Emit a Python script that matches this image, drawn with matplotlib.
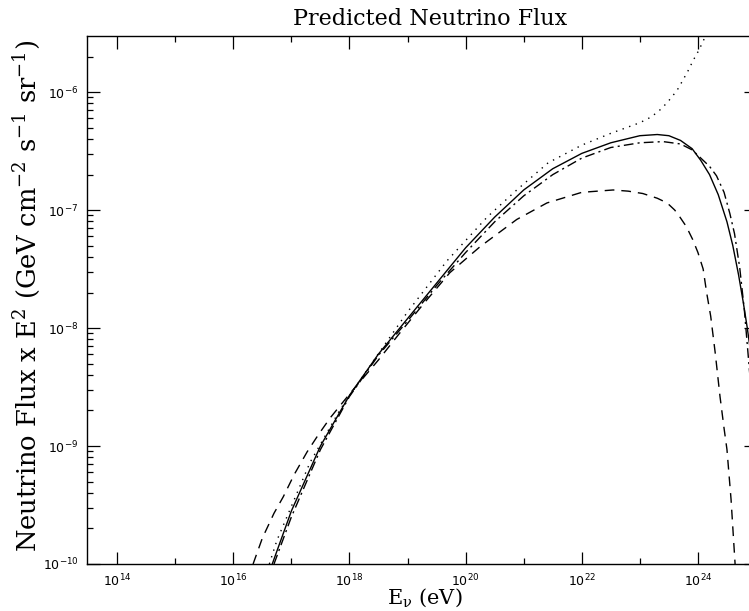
import numpy as np
import matplotlib
matplotlib.use("Agg")
import matplotlib.pyplot as plt
from matplotlib.ticker import FixedLocator, LogFormatterSciNotation, NullFormatter

# log10(E/eV) and log10(flux)
solid_logE = [16.67, 17.0, 17.5, 18.0, 18.5, 19.0, 19.5, 20.0, 20.5, 21.0, 21.5, 22.0, 22.5,
              23.0, 23.3, 23.5, 23.7, 23.9, 24.05, 24.2, 24.35, 24.5, 24.6, 24.7, 24.78, 24.85, 24.92]
solid_logF = [-10.0, -9.55, -9.0, -8.57, -8.22, -7.92, -7.62, -7.32, -7.06, -6.83, -6.65, -6.52, -6.43,
              -6.37, -6.36, -6.37, -6.41, -6.48, -6.58, -6.70, -6.87, -7.10, -7.30, -7.55, -7.78, -8.00, -8.25]

dashdot_logE = [16.70, 17.0, 17.5, 18.0, 18.5, 19.0, 19.5, 20.0, 20.5, 21.0, 21.5, 22.0, 22.5,
                23.0, 23.4, 23.7, 23.9, 24.05, 24.2, 24.32, 24.45, 24.55, 24.63, 24.72, 24.8, 24.86, 24.92]
dashdot_logF = [-10.0, -9.6, -9.03, -8.58, -8.23, -7.94, -7.64, -7.36, -7.10, -6.88, -6.70, -6.56, -6.47,
                -6.43, -6.42, -6.44, -6.49, -6.56, -6.63, -6.71, -6.85, -7.03, -7.20, -7.49, -7.85, -8.20, -8.55]

dashed_logE = [16.34, 16.5, 16.7, 16.86, 17.05, 17.27, 17.47, 17.67, 18.0, 18.5, 18.87, 19.3, 19.73,
               20.25, 20.88, 21.4, 22.0, 22.54, 22.8, 23.05, 23.3, 23.47, 23.6, 23.69, 23.8, 23.91,
               24.0, 24.09, 24.15, 24.22, 24.3, 24.38, 24.45, 24.5, 24.57, 24.64]
dashed_logF = [-10.0, -9.78, -9.57, -9.43, -9.24, -9.05, -8.90, -8.76, -8.56, -8.27, -8.04, -7.78, -7.53,
               -7.31, -7.08, -6.94, -6.85, -6.83, -6.84, -6.86, -6.90, -6.94, -7.00, -7.06, -7.14, -7.25,
               -7.36, -7.50, -7.70, -7.90, -8.22, -8.58, -8.85, -9.03, -9.45, -10.0]

dotted_logE = [16.62, 16.75, 17.32, 17.84, 18.41, 18.99, 19.68, 20.37, 20.88, 21.42, 22.0, 22.5,
               23.0, 23.2, 23.35, 23.47, 23.57, 23.66, 23.74, 23.83, 23.92, 24.0, 24.07, 24.2]
dotted_logF = [-10.0, -9.8, -9.14, -8.69, -8.28, -7.87, -7.43, -7.06, -6.83, -6.60, -6.45, -6.35,
               -6.26, -6.21, -6.15, -6.09, -6.03, -5.97, -5.90, -5.82, -5.73, -5.66, -5.59, -5.45]

x_major_exp = [14, 16, 18, 20, 22, 24]
x_minor_exp = [15, 17, 19, 21, 23]
y_major_exp = [-10, -9, -8, -7, -6]

title = "Predicted Neutrino Flux"
xlabel = r"E$\mathregular{_\nu}$ (eV)"
ylabel = (r"Neutrino Flux x E$\mathregular{^2}$ (GeV cm$\mathregular{^{-2}}$ "
          r"s$\mathregular{^{-1}}$ sr$\mathregular{^{-1}}$)")

plt.rcParams['font.family'] = ['DejaVu Serif']
plt.rcParams['mathtext.fontset'] = 'dejavuserif'

W, H = 749, 611
fig = plt.figure(figsize=(W / 100, H / 100), dpi=100)
left, right, bottom, top = 87, 756, 564, 36
ax = fig.add_axes([left / W, (H - bottom) / H, (right - left) / W, (bottom - top) / H])

def p(lx, ly):
    return 10 ** np.array(lx), 10 ** np.array(ly)

ax.plot(*p(solid_logE, solid_logF), color='black', lw=1.0, ls='-')
ax.plot(*p(dashdot_logE, dashdot_logF), color='black', lw=1.0, ls=(0, (7, 3, 1.5, 3)))
ax.plot(*p(dashed_logE, dashed_logF), color='black', lw=1.0, ls=(0, (7, 5)))
ax.plot(*p(dotted_logE, dotted_logF), color='black', lw=1.0, ls=(0, (1, 4)))

ax.set_xscale('log')
ax.set_yscale('log')
ax.set_xlim(10 ** 13.48, 10 ** 25.0)
ax.set_ylim(1e-10, 10 ** -5.525)

ax.xaxis.set_major_locator(FixedLocator([10.0 ** e for e in x_major_exp]))
ax.xaxis.set_minor_locator(FixedLocator([10.0 ** e for e in x_minor_exp]))
ax.xaxis.set_major_formatter(LogFormatterSciNotation(base=10))
ax.xaxis.set_minor_formatter(NullFormatter())
y_minor = [m * 10.0 ** e for e in [-10, -9, -8, -7, -6] for m in range(2, 10)
           if m * 10.0 ** e < 10 ** -5.525]
ax.yaxis.set_major_locator(FixedLocator([10.0 ** e for e in y_major_exp]))
ax.yaxis.set_minor_locator(FixedLocator(y_minor))
ax.yaxis.set_major_formatter(LogFormatterSciNotation(base=10))
ax.yaxis.set_minor_formatter(NullFormatter())

ax.tick_params(which='both', direction='in', top=True, right=True, color='black', width=0.9)
ax.tick_params(which='major', length=9, labelsize=9, pad=6, labelfontfamily='DejaVu Sans')
ax.tick_params(which='minor', length=4.5)
ax.yaxis.set_tick_params(which='minor', length=4)
for s in ax.spines.values():
    s.set_linewidth(1.0)

ax.set_title(title, fontsize=16, pad=8, x=(430 - left) / (right - left))
ax.set_xlabel(xlabel, fontsize=15)
ax.xaxis.set_label_coords((425 - left) / (right - left), -40 / 528)
ax.xaxis.label.set_va('baseline')
ax.set_ylabel(ylabel, fontsize=18.5)
ax.yaxis.set_label_coords(-60 / (right - left), (564 - 296) / 528)
ax.yaxis.label.set_va('center')

fig.savefig('out.png', dpi=100)
